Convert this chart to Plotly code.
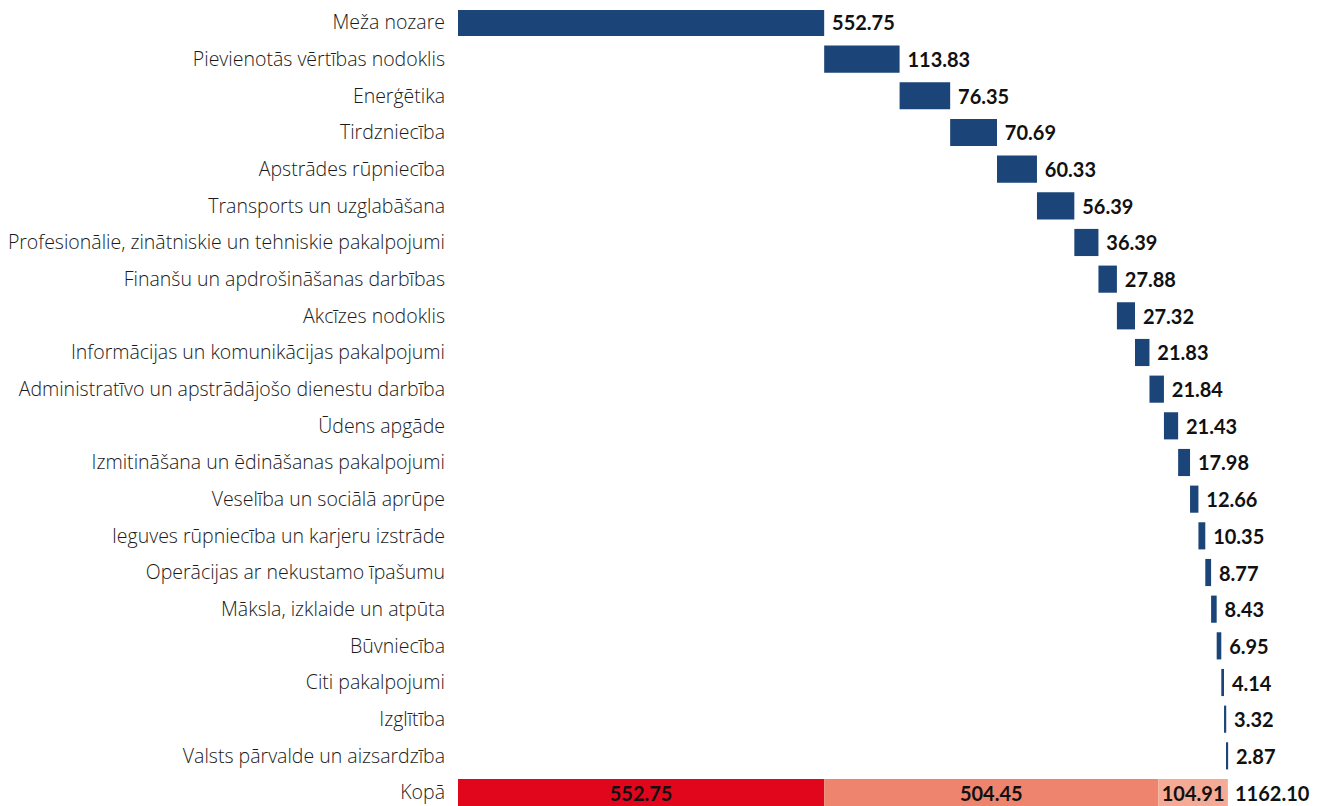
import plotly.graph_objects as go

categories = [
    "Meža nozare",
    "Pievienotās vērtības nodoklis",
    "Enerģētika",
    "Tirdzniecība",
    "Apstrādes rūpniecība",
    "Transports un uzglabāšana",
    "Profesionālie, zinātniskie un tehniskie pakalpojumi",
    "Finanšu un apdrošināšanas darbības",
    "Akcīzes nodoklis",
    "Informācijas un komunikācijas pakalpojumi",
    "Administratīvo un apstrādājošo dienestu darbība",
    "Ūdens apgāde",
    "Izmitināšana un ēdināšanas pakalpojumi",
    "Veselība un sociālā aprūpe",
    "Ieguves rūpniecība un karjeru izstrāde",
    "Operācijas ar nekustamo īpašumu",
    "Māksla, izklaide un atpūta",
    "Būvniecība",
    "Citi pakalpojumi",
    "Izglītība",
    "Valsts pārvalde un aizsardzība",
]
values = [552.75, 113.83, 76.35, 70.69, 60.33, 56.39, 36.39, 27.88, 27.32, 21.83,
          21.84, 21.43, 17.98, 12.66, 10.35, 8.77, 8.43, 6.95, 4.14, 3.32, 2.87]

total_label = "Kopā"
total_parts = [552.75, 504.45, 104.91]
total_value = 1162.10

all_cats = categories + [total_label]

bases = []
acc = 0.0
for v in values:
    bases.append(acc)
    acc += v

BLUE = "#1b4578"
PART_COLORS = ["#e2061c", "#ef846e", "#f5aa95"]
FONT_LBL = "Open Sans"
FONT_VAL = "Lato"
VAL_SIZE = 20

fig = go.Figure()
fig.add_trace(go.Bar(
    y=categories, x=values, base=bases, orientation="h",
    marker=dict(color=BLUE, line=dict(width=0)),
    width=0.74,
    text=[f"{v:.2f}" for v in values],
    texttemplate=" %{text}",
    textposition="outside", cliponaxis=False, constraintext="none",
    textfont=dict(family=FONT_VAL, size=VAL_SIZE, color="#111111", weight="bold"),
    showlegend=False, hoverinfo="skip",
))

pbase = 0.0
for part, col in zip(total_parts, PART_COLORS):
    fig.add_trace(go.Bar(
        y=[total_label], x=[part], base=[pbase], orientation="h",
        marker=dict(color=col, line=dict(width=0)),
        width=0.74,
        text=[f"{part:.2f}"], textposition="inside", insidetextanchor="middle",
        constraintext="none",
        textfont=dict(family=FONT_VAL, size=VAL_SIZE, color="#111111", weight="bold"),
        showlegend=False, hoverinfo="skip",
    ))
    pbase += part

fig.add_annotation(
    x=pbase, y=total_label, text=f"{total_value:.2f}", showarrow=False,
    xanchor="left", xshift=5,
    font=dict(family=FONT_VAL, size=VAL_SIZE, color="#111111", weight="bold"),
)

# page has an 8px body margin; compensate so the layout matches the reference
p = 36.76
ymin = -12.5 / p
ymax = ymin + 806 / p
left = 448
scale = 0.664

fig.update_layout(
    width=1320, height=806,
    margin=dict(l=left, r=0, t=0, b=0),
    paper_bgcolor="white", plot_bgcolor="white",
    barmode="overlay",
    xaxis=dict(range=[0, (1320 - left) / scale], visible=False, showgrid=False, zeroline=False),
    yaxis=dict(
        type="category", categoryorder="array", categoryarray=all_cats,
        range=[ymax, ymin], showgrid=False, zeroline=False, showline=False,
        ticks="", ticklabelstandoff=12,
        tickfont=dict(family=FONT_LBL, size=19.5, color="#1a1a1a", weight=300),
    ),
)

fig.write_html("out.html")
